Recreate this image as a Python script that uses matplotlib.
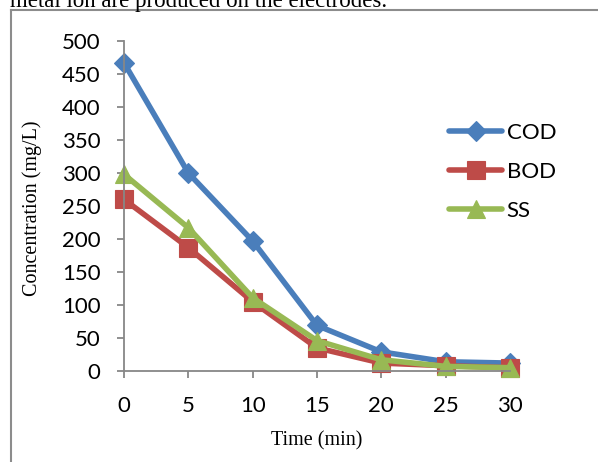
import matplotlib
matplotlib.use("Agg")
import matplotlib.pyplot as plt
from matplotlib.lines import Line2D

# ---- data ----
time_min = [0, 5, 10, 15, 20, 25, 30]
cod = [467, 300, 197, 69, 29, 14, 12]
bod = [260, 187, 105, 35, 12, 8, 5]
ss = [298, 217, 111, 46, 17, 7, 5]
series_names = ["COD", "BOD", "SS"]
y_ticks = [0, 50, 100, 150, 200, 250, 300, 350, 400, 450, 500]
x_ticks = time_min

W, H = 598, 462
fig = plt.figure(figsize=(W / 100, H / 100), dpi=100)
fig.patch.set_facecolor("white")

def fx(px):
    return px / W

def fy(py):
    return 1 - py / H

# axes placement (pixels)
L, R, T, B = 124, 510, 41, 371
ax = fig.add_axes([fx(L), fy(B), fx(R - L), (B - T) / H])

colors = ["#4A7EBB", "#BE4B48", "#98B954"]
markers = ["D", "s", "^"]
msizes = [10.0, 13.5, 13.5]
for vals, name, c, m, ms in zip([cod, bod, ss], series_names, colors, markers, msizes):
    ax.plot(time_min, vals, color=c, lw=4, marker=m, ms=ms, mec=c, mew=0.8,
            label=name, clip_on=False, solid_capstyle="round", solid_joinstyle="round")

ax.set_xlim(0, 30)
ax.set_ylim(0, 500)
ax.set_xticks(x_ticks)
ax.set_yticks(y_ticks)

tick_font = "Lato"
ax.set_xticklabels([str(v) for v in x_ticks], fontfamily=tick_font, fontsize=16)
ax.set_yticklabels([str(v) for v in y_ticks], fontfamily=tick_font, fontsize=16)

axis_color = "#878787"
for s in ["top", "right"]:
    ax.spines[s].set_visible(False)
for s in ["left", "bottom"]:
    ax.spines[s].set_color(axis_color)
    ax.spines[s].set_linewidth(1.3)
ax.tick_params(axis="both", direction="out", length=5, width=1.3, color=axis_color)
ax.tick_params(axis="y", pad=12)
ax.tick_params(axis="x", pad=13)

# axis titles
fig.text(fx(317), fy(441), "Time (min)", family="Liberation Serif", fontsize=14.5,
         ha="center", va="center")
fig.text(fx(32), fy(208), "Concentration (mg/L)", family="Liberation Serif", fontsize=14.5,
         ha="center", va="center", rotation=90)

# legend
leg = ax.legend(loc="upper left", bbox_to_anchor=(fx(449), fy(123)),
                bbox_transform=fig.transFigure, frameon=False,
                prop={"family": tick_font, "size": 16},
                handlelength=2.4, handletextpad=0.2, labelspacing=0.85,
                borderpad=0, borderaxespad=0)

# text above the framed chart
fig.text(fx(10), fy(6.5), "metal ion are produced on the electrodes.",
         family="Liberation Serif", fontsize=16.5, ha="left", va="baseline")

# frame around the chart
frame_c = "#8C8C8C"
fig.add_artist(Line2D([fx(11), fx(11)], [fy(10), 0], color=frame_c, lw=1.5,
                      transform=fig.transFigure))
fig.add_artist(Line2D([fx(11), 1], [fy(10), fy(10)], color=frame_c, lw=1.5,
                      transform=fig.transFigure))

fig.savefig("out.png", dpi=100)
